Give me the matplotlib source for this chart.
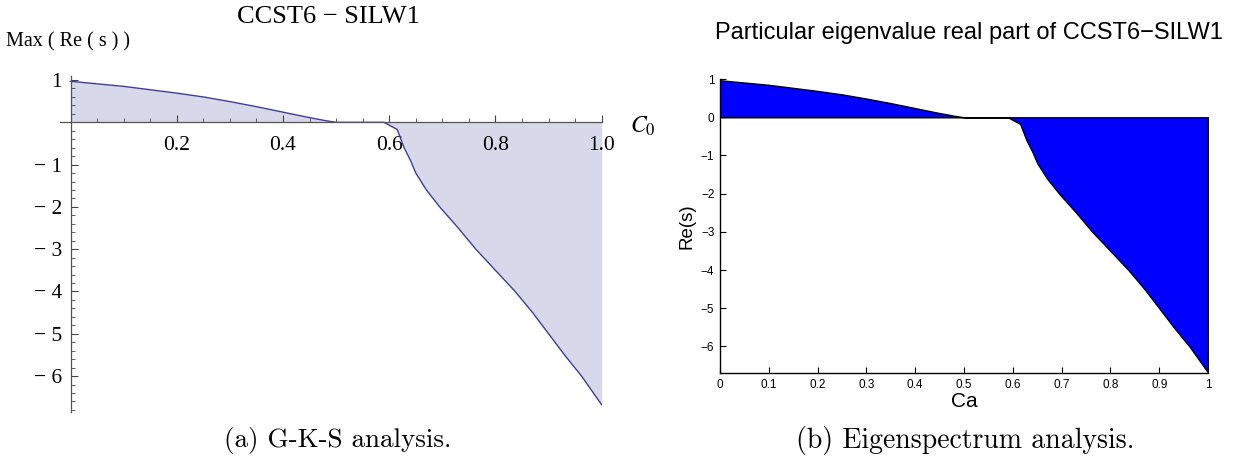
import matplotlib
matplotlib.use("Agg")
import matplotlib.pyplot as plt
from matplotlib.ticker import MultipleLocator, FixedLocator, FuncFormatter

# ---- data ----
ca = [0.0, 0.05, 0.1, 0.15, 0.2, 0.25, 0.3, 0.35, 0.4, 0.45, 0.48, 0.5,
      0.55, 0.59, 0.615, 0.628, 0.64, 0.65, 0.67, 0.695, 0.73, 0.763,
      0.8, 0.837, 0.87, 0.9, 0.93, 0.962, 1.0]
re_s = [0.97, 0.91, 0.85, 0.77, 0.69, 0.60, 0.49, 0.37, 0.24, 0.11, 0.04, 0.0,
        0.0, 0.0, -0.17, -0.6, -0.9, -1.2, -1.6, -2.0, -2.5, -3.0,
        -3.5, -4.0, -4.5, -5.0, -5.5, -6.0, -6.68]

left_xticks = [0.2, 0.4, 0.6, 0.8, 1.0]
left_yticks = [-6, -5, -4, -3, -2, -1, 1]
right_xticks = [0, 0.1, 0.2, 0.3, 0.4, 0.5, 0.6, 0.7, 0.8, 0.9, 1]
right_xticklabels = ["0", "0.1", "0.2", "0.3", "0.4", "0.5", "0.6", "0.7", "0.8", "0.9", "1"]
right_yticks = [-6, -5, -4, -3, -2, -1, 0, 1]

W, H = 1239, 461
fig = plt.figure(figsize=(W / 100, H / 100), dpi=100)

def fx(x):
    return x / W

def fy(y):
    return 1 - y / H

serif = ["Liberation Serif", "DejaVu Serif"]
sans = ["Liberation Sans", "DejaVu Sans"]
cm = ["cmr10", "DejaVu Serif"]
plt.rcParams["mathtext.fontset"] = "stix"

# ---------------- left panel (Mathematica style) ----------------
ax1 = fig.add_axes([fx(59.9), fy(412), (601.7 - 59.9) / W, (412 - 75.8) / H])
ax1.fill_between(ca, re_s, 0, color="#D8D8EB", lw=0)
ax1.plot(ca, re_s, color="#3D3D9E", lw=1.0)
ax1.set_xlim(-0.02, 1.0)
ax1.set_ylim(-6.85, 1.1)
for s in ["top", "right"]:
    ax1.spines[s].set_visible(False)
ax1.spines["left"].set_position(("data", 0))
ax1.spines["bottom"].set_position(("data", 0))
for s in ["left", "bottom"]:
    ax1.spines[s].set_color("#555555")
    ax1.spines[s].set_linewidth(0.9)
ax1.xaxis.set_major_locator(FixedLocator(left_xticks))
ax1.xaxis.set_minor_locator(MultipleLocator(0.05))
ax1.yaxis.set_major_locator(FixedLocator(left_yticks))
ax1.yaxis.set_minor_locator(MultipleLocator(0.2))
ax1.xaxis.set_major_formatter(FuncFormatter(lambda v, p: f"{v:.1f}"))
ax1.yaxis.set_major_formatter(FuncFormatter(lambda v, p: f"\u2212 {abs(int(round(v)))}" if v < 0 else f"{int(round(v))}"))
ax1.tick_params(which="major", direction="in", length=5, width=0.8, color="#444444")
ax1.tick_params(which="minor", direction="in", length=2.6, width=0.6, color="#444444")
ax1.tick_params(axis="x", which="major", pad=10)
ax1.tick_params(axis="y", which="major", pad=6)
for lab in ax1.get_xticklabels() + ax1.get_yticklabels():
    lab.set_fontfamily(serif)
    lab.set_fontsize(15.5)

fig.text(fx(328), fy(17), "CCST6 \u2212 SILW1", family=serif, fontsize=19, ha="center", va="center")
fig.text(fx(6), fy(42), "Max ( Re ( s ) )", family=serif, fontsize=14.5, ha="left", va="center")
fig.text(fx(643), fy(126), r"$C_0$", fontsize=17, ha="center", va="center")
fig.text(fx(338), fy(440), "(a) G-K-S analysis.", family=cm, fontsize=19.5, ha="center", va="center")

# ---------------- right panel (MATLAB style) ----------------
ax2 = fig.add_axes([fx(720), fy(373.2), 488 / W, (373.2 - 79.1) / H])
ax2.fill_between(ca, re_s, 0, facecolor="#0000FF", edgecolor="black", lw=1.0)
ax2.set_xlim(0, 1)
ax2.set_ylim(-6.7, 1.0)
for s in ["top", "right"]:
    ax2.spines[s].set_visible(False)
for s in ["left", "bottom"]:
    ax2.spines[s].set_linewidth(1.0)
ax2.set_xticks(right_xticks)
ax2.set_xticklabels(right_xticklabels)
ax2.set_yticks(right_yticks)
ax2.tick_params(direction="in", length=4, width=0.8, labelsize=8.5, pad=4)
for lab in ax2.get_xticklabels() + ax2.get_yticklabels():
    lab.set_fontfamily(sans)
ax2.set_xlabel("Ca", family=sans, fontsize=15, labelpad=1)
ax2.set_ylabel("Re(s)", family=sans, fontsize=13.5, labelpad=4)

fig.text(fx(969), fy(33), "Particular eigenvalue real part of CCST6\u2212SILW1", family=sans, fontsize=17, ha="center", va="center")
fig.text(fx(965), fy(440), "(b) Eigenspectrum analysis.", family=cm, fontsize=20, ha="center", va="center")

fig.savefig("out.png", dpi=100)
